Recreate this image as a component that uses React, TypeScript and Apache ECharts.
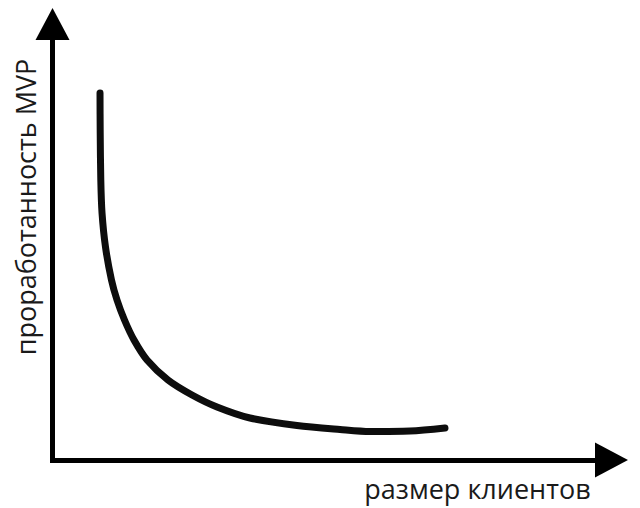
import React, { useEffect, useRef } from "react";
import * as echarts from "echarts";

// Curve values (x: client size, y: MVP maturity), on 0..100 scales
const curveX = [8.5, 8.53, 8.64, 8.86, 9.48, 10.55, 11.54, 12.88, 14.58, 16.91, 20.66, 24.96, 29.43, 35.33, 43.74, 51.43, 56.8, 63.95, 70.21];
const curveY = [84.17, 75.69, 64.22, 56.65, 48.85, 41.28, 36.7, 32.11, 27.52, 22.94, 18.35, 14.91, 12.16, 9.63, 7.91, 7.0, 6.54, 6.65, 7.34];

const xAxisTitle = "размер клиентов";
const yAxisTitle = "проработанность MVP";

export default function App() {
  const ref = useRef<HTMLDivElement>(null);

  useEffect(() => {
    if (!ref.current) return;
    const chart = echarts.init(ref.current, null, { renderer: "svg" });
    const data = curveX.map((x, i) => [x, curveY[i]]);
    const font = "'Open Sans', 'Noto Sans', sans-serif";
    chart.setOption({
      animation: false,
      backgroundColor: "#ffffff",
      grid: { left: 52.5, right: 28.5, top: 24, bottom: 48, containLabel: false },
      xAxis: {
        type: "value",
        min: 0,
        max: 100,
        axisLine: {
          show: true,
          symbol: ["none", "triangle"],
          symbolSize: [35, 33],
          lineStyle: { color: "#000", width: 5, cap: "square" },
        },
        axisTick: { show: false },
        axisLabel: { show: false },
        splitLine: { show: false },
      },
      yAxis: {
        type: "value",
        min: 0,
        max: 100,
        axisLine: {
          show: true,
          symbol: ["none", "triangle"],
          symbolSize: [34, 32],
          lineStyle: { color: "#000", width: 5, cap: "square" },
        },
        axisTick: { show: false },
        axisLabel: { show: false },
        splitLine: { show: false },
      },
      series: [
        {
          type: "line",
          data,
          smooth: 0.3,
          showSymbol: false,
          symbol: "none",
          lineStyle: { color: "#0d0d0d", width: 7, cap: "round", join: "round" },
          z: 3,
        },
      ],
      graphic: [
        {
          type: "text",
          x: 477.5,
          y: 488,
          style: {
            text: xAxisTitle,
            fill: "#1a1a1a",
            font: `27px ${font}`,
            textAlign: "center",
            textVerticalAlign: "middle",
          },
        },
        {
          type: "text",
          x: 25,
          y: 207,
          rotation: Math.PI / 2,
          style: {
            text: yAxisTitle,
            fill: "#1a1a1a",
            font: `27px ${font}`,
            textAlign: "center",
            textVerticalAlign: "middle",
          },
        },
      ],
    });
    return () => chart.dispose();
  }, []);

  return (
    <div
      ref={ref}
      style={{ position: "absolute", left: 0, top: 0, width: 640, height: 508, background: "#fff" }}
    />
  );
}
